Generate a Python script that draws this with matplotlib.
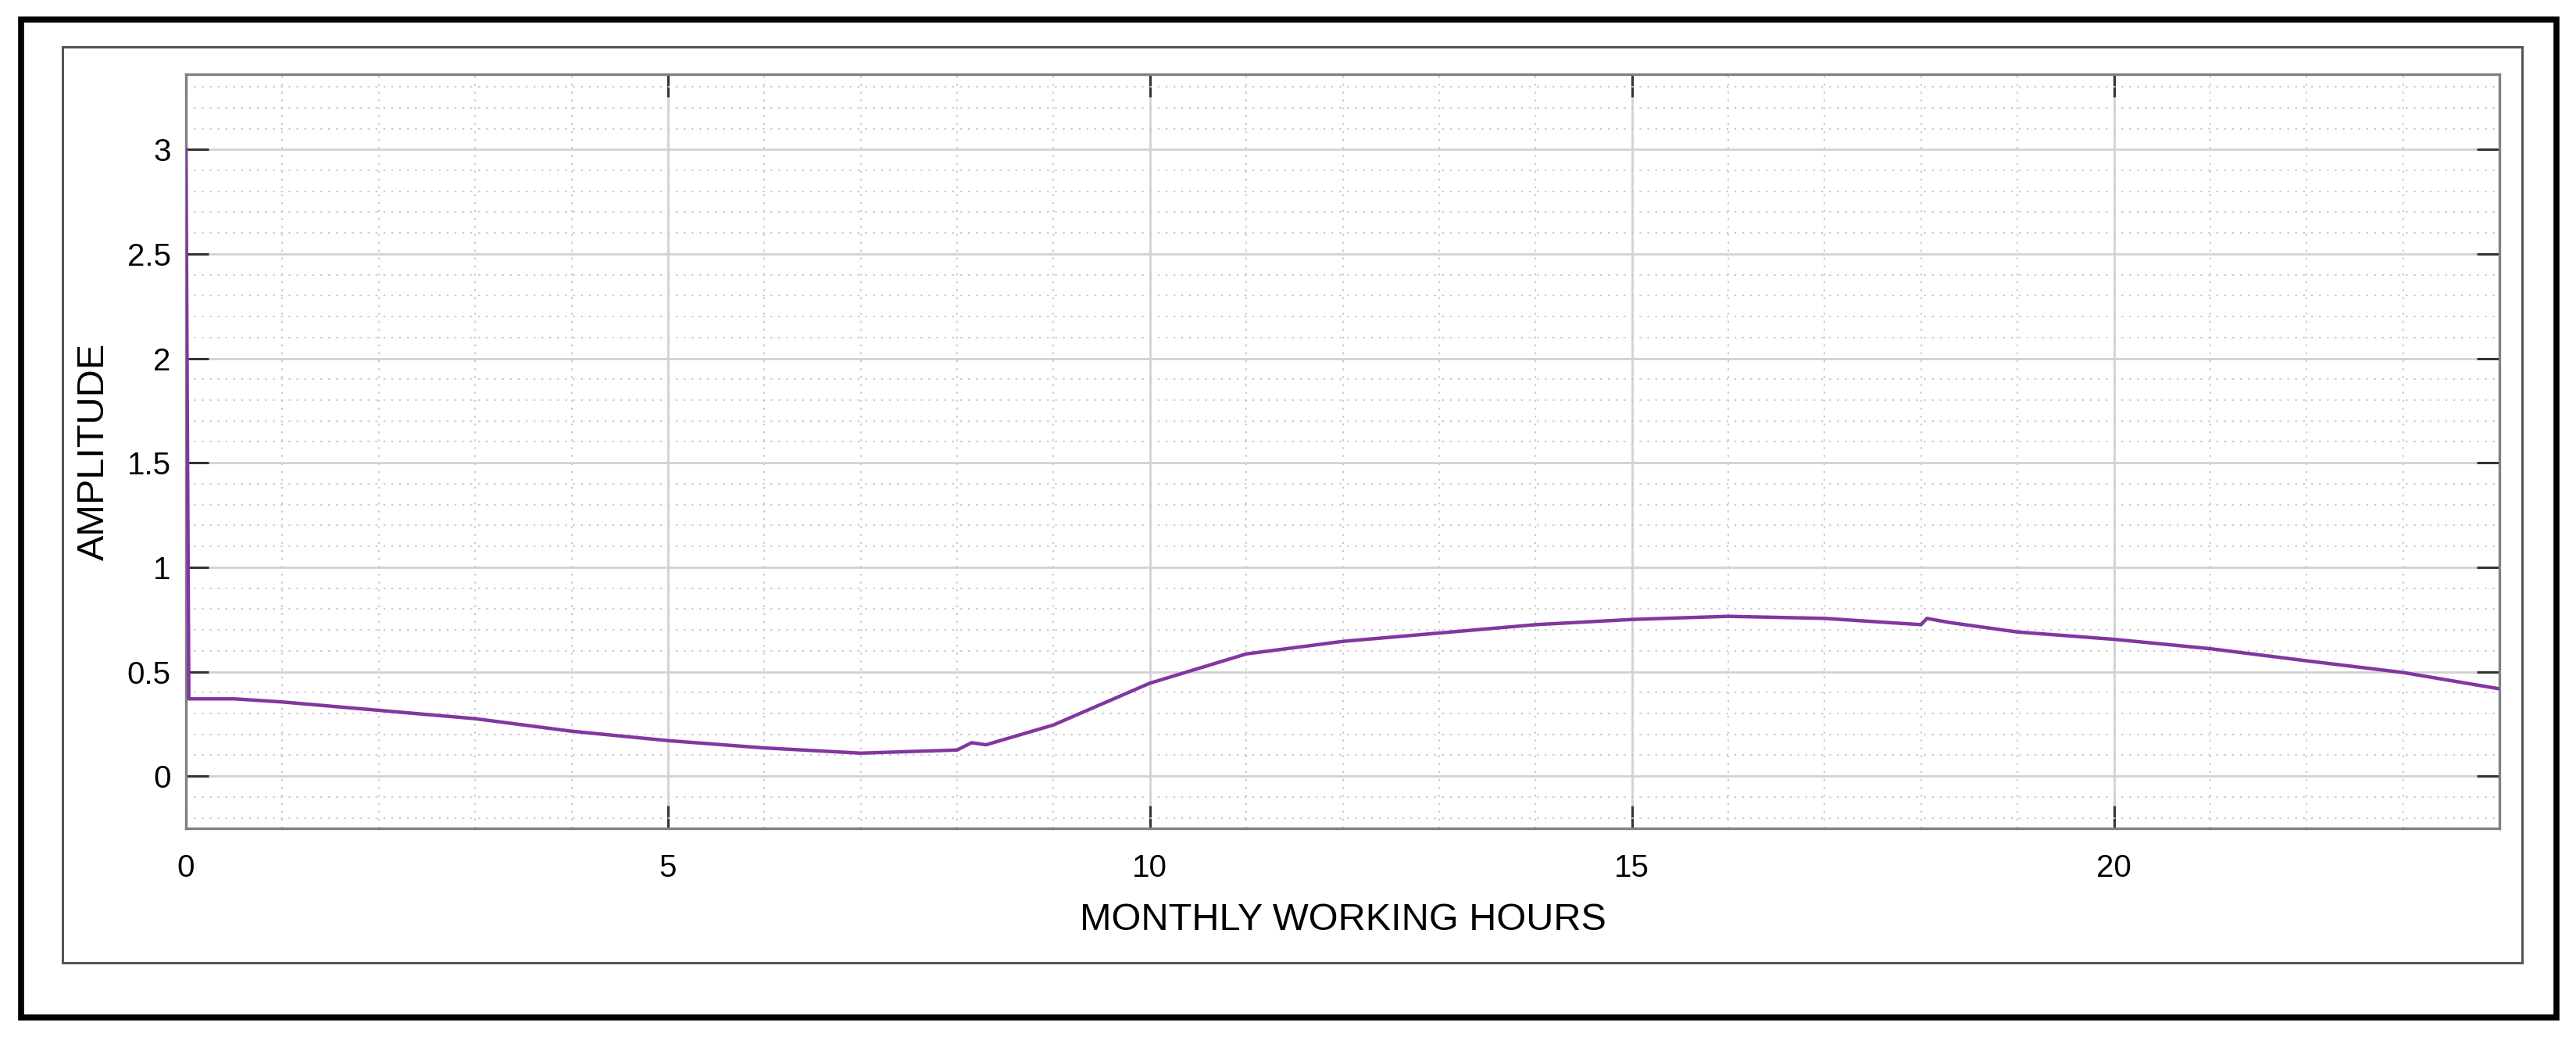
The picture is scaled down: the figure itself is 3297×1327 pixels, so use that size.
import numpy as np
import matplotlib
matplotlib.use("Agg")
import matplotlib.pyplot as plt
from matplotlib.patches import Rectangle
from matplotlib.ticker import MultipleLocator

plt.rcParams['font.family'] = ['Liberation Sans', 'DejaVu Sans']

# data (hours vs amplitude)
hours = [0.0, 0.03, 0.5, 1, 2, 3, 4, 5, 6, 7, 8, 8.15, 8.3, 9, 10, 11, 12, 13,
         14, 15, 16, 17, 18, 18.06, 18.3, 19, 20, 21, 22, 23, 24]
amplitude = [3.0, 0.37, 0.37, 0.355, 0.315, 0.275, 0.215, 0.17, 0.135, 0.11,
             0.125, 0.16, 0.15, 0.245, 0.445, 0.585, 0.645, 0.685, 0.725,
             0.75, 0.765, 0.755, 0.725, 0.755, 0.735, 0.69, 0.655, 0.61,
             0.552, 0.496, 0.418]

xticks = [0, 5, 10, 15, 20]
yticks = [0, 0.5, 1, 1.5, 2, 2.5, 3]
ytick_labels = ['0', '0.5', '1', '1.5', '2', '2.5', '3']

W, H = 3297, 1327
fig = plt.figure(figsize=(W / 100, H / 100), dpi=100)

# outer black frame and inner grey frame
fig.patches.append(Rectangle((27 / W, 1 - 1302 / H), (3272 - 27) / W, (1302 - 25) / H,
                             transform=fig.transFigure, fill=False,
                             edgecolor='black', linewidth=5.5))
fig.patches.append(Rectangle((80 / W, 1 - 1232 / H), (3228 - 80) / W, (1232 - 60) / H,
                             transform=fig.transFigure, fill=False,
                             edgecolor='#555555', linewidth=2.2))

ax = fig.add_axes([238 / W, 1 - 1060 / H, (3199 - 238) / W, (1060 - 95) / H])
ax.plot(hours, amplitude, color='#8137A0', linewidth=3.2, zorder=3)

ax.set_xlim(0, 24)
ax.set_ylim(-0.25, 3.36)
ax.set_xticks(xticks)
ax.set_yticks(yticks)
ax.set_yticklabels(ytick_labels)
ax.xaxis.set_minor_locator(MultipleLocator(1))
ax.yaxis.set_minor_locator(MultipleLocator(0.1))

ax.grid(which='major', color='#d2d2d2', linewidth=2.0, linestyle='-')
ax.grid(which='minor', color='#c8c8c8', linewidth=1.4, linestyle=(0, (1.2, 4)))
ax.set_axisbelow(True)

ax.tick_params(which='major', direction='in', length=21, width=2.2, color='#333333',
               top=True, right=True, labelsize=29)
ax.tick_params(axis='x', which='major', pad=23)
ax.tick_params(axis='y', which='major', pad=14)
ax.tick_params(which='minor', length=0)

for s in ax.spines.values():
    s.set_color('#808080')
    s.set_linewidth(2.4)

ax.set_xlabel('MONTHLY WORKING HOURS', fontsize=35, labelpad=18)
ax.set_ylabel('AMPLITUDE', fontsize=35, labelpad=14)

fig.savefig('out.png', dpi=100, facecolor='white')
